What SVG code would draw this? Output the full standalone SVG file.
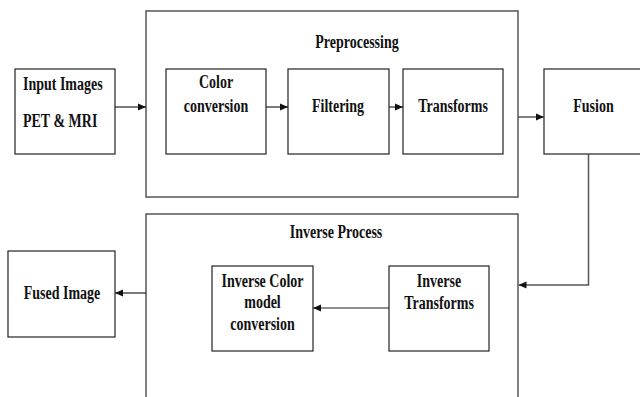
<svg xmlns="http://www.w3.org/2000/svg" width="640" height="397" viewBox="0 0 640 397">
<defs>
<style>
.box{fill:#fff;stroke:#222;stroke-width:1.2}
.outer{fill:#fff;stroke:#555;stroke-width:1.5}
.t{font-family:"Liberation Serif","Times New Roman",serif;font-weight:bold;font-size:14px;fill:#111}
.c{text-anchor:middle}
.ln{fill:none;stroke:#222;stroke-width:1.2}
.lg{fill:none;stroke:#555;stroke-width:1.5}
</style>
<marker id="ah" markerUnits="userSpaceOnUse" markerWidth="8" markerHeight="8" refX="8" refY="4" orient="auto">
<path d="M0,0.5 L8,4 L0,7.5 z" fill="#111"/>
</marker>
</defs>
<rect width="640" height="397" fill="#fff"/>
<g id="preprocessing">
<rect class="outer" x="146" y="11" width="372" height="186"/>
<text class="t c" transform="translate(357,47.5) scale(1,1.28)">Preprocessing</text>
</g>
<g id="inverse-process">
<rect class="outer" x="146" y="214" width="372" height="200"/>
<text class="t c" transform="translate(336,238) scale(1,1.28)">Inverse Process</text>
</g>
<g id="input-images">
<rect class="box" x="15" y="69" width="100" height="85"/>
<text class="t" transform="translate(23,89.5) scale(1,1.28)">Input Images</text>
<text class="t" transform="translate(23,126.5) scale(1,1.28)">PET &amp; MRI</text>
</g>
<g id="color-conversion">
<rect class="box" x="166" y="69" width="100" height="85"/>
<text class="t c" transform="translate(216,88) scale(1,1.28)">Color</text>
<text class="t c" transform="translate(216,111.5) scale(1,1.28)">conversion</text>
</g>
<g id="filtering">
<rect class="box" x="288" y="69" width="101" height="85"/>
<text class="t c" transform="translate(338,111.5) scale(1,1.28)">Filtering</text>
</g>
<g id="transforms">
<rect class="box" x="403" y="69" width="100" height="85"/>
<text class="t c" transform="translate(453,111.5) scale(1,1.28)">Transforms</text>
</g>
<g id="fusion">
<rect class="box" x="544" y="69" width="110" height="85"/>
<text class="t c" transform="translate(593.5,111.5) scale(1,1.28)">Fusion</text>
</g>
<g id="inverse-transforms">
<rect class="box" x="389" y="266" width="100" height="85"/>
<text class="t c" transform="translate(439,287.3) scale(1,1.28)">Inverse</text>
<text class="t c" transform="translate(439,309) scale(1,1.28)">Transforms</text>
</g>
<g id="inverse-color">
<rect class="box" x="212" y="266" width="101" height="85"/>
<text class="t c" transform="translate(262.5,287.3) scale(1,1.28)">Inverse Color</text>
<text class="t c" transform="translate(262.5,308.3) scale(1,1.28)">model</text>
<text class="t c" transform="translate(262.5,329.5) scale(1,1.28)">conversion</text>
</g>
<g id="fused-image">
<rect class="box" x="8" y="251" width="107" height="86"/>
<text class="t c" transform="translate(62,299) scale(1,1.28)">Fused Image</text>
</g>
<g id="connectors">
<line class="ln" x1="115" y1="107" x2="146" y2="107" marker-end="url(#ah)"/>
<line class="ln" x1="266" y1="107" x2="288" y2="107" marker-end="url(#ah)"/>
<line class="ln" x1="389" y1="107" x2="403" y2="107" marker-end="url(#ah)"/>
<line class="lg" x1="518" y1="117" x2="544" y2="117" marker-end="url(#ah)"/>
<polyline class="lg" points="588.5,154 588.5,285 518.5,285" marker-end="url(#ah)"/>
<line class="ln" x1="389" y1="308" x2="313" y2="308" marker-end="url(#ah)"/>
<line class="ln" x1="146" y1="293" x2="115" y2="293" marker-end="url(#ah)"/>
</g>
</svg>
